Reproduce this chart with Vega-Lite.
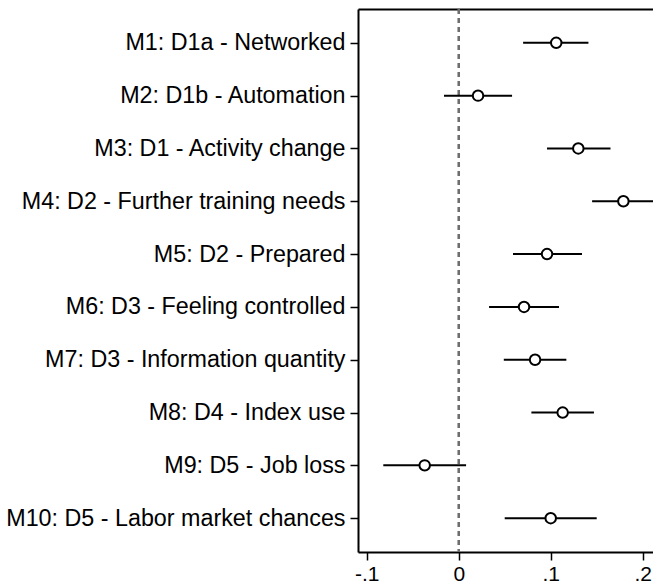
{
  "$schema": "https://vega.github.io/schema/vega-lite/v6.json",
  "autosize": "none",
  "padding": {"left": 358, "top": 9, "right": 0, "bottom": 34},
  "width": 295,
  "height": 543,
  "background": "white",
  "config": {
    "view": {"stroke": null},
    "font": "Liberation Sans",
    "axis": {"labelFont": "Liberation Sans", "labelFontSize": 23.3, "labelColor": "black", "domainColor": "black", "domainWidth": 2, "tickColor": "black", "tickWidth": 1.5, "tickSize": 8, "grid": false, "title": null}
  },
  "data": {"values": [
    {"label": "M1: D1a - Networked", "est": 0.106, "lo": 0.070, "hi": 0.141},
    {"label": "M2: D1b - Automation", "est": 0.021, "lo": -0.016, "hi": 0.058},
    {"label": "M3: D1 - Activity change", "est": 0.130, "lo": 0.096, "hi": 0.165},
    {"label": "M4: D2 - Further training needs", "est": 0.179, "lo": 0.145, "hi": 0.213},
    {"label": "M5: D2 - Prepared", "est": 0.096, "lo": 0.059, "hi": 0.134},
    {"label": "M6: D3 - Feeling controlled", "est": 0.071, "lo": 0.033, "hi": 0.109},
    {"label": "M7: D3 - Information quantity", "est": 0.083, "lo": 0.049, "hi": 0.117},
    {"label": "M8: D4 - Index use", "est": 0.113, "lo": 0.079, "hi": 0.147},
    {"label": "M9: D5 - Job loss", "est": -0.037, "lo": -0.082, "hi": 0.008},
    {"label": "M10: D5 - Labor market chances", "est": 0.100, "lo": 0.050, "hi": 0.150}
  ]},
  "resolve": {"axis": {"x": "independent"}},
  "layer": [
    {
      "mark": {"type": "rule", "strokeDash": [5, 4], "color": "#6e6e6e", "strokeWidth": 1.6},
      "encoding": {
        "x": {"datum": 0, "type": "quantitative", "scale": {"domain": [-0.1095, 0.2112], "nice": false, "zero": false}, "axis": {"orient": "top", "labels": false, "ticks": false, "domain": true}}
      }
    },
    {
      "mark": {"type": "rule", "color": "black", "strokeWidth": 2, "clip": true},
      "encoding": {
        "y": {"field": "label", "type": "nominal", "sort": null, "scale": {"type": "point", "padding": 0.64}, "axis": {"labelPadding": 5, "labelLimit": 400}},
        "x": {"field": "lo", "type": "quantitative", "axis": null},
        "x2": {"field": "hi"}
      }
    },
    {
      "mark": {"type": "point", "shape": "circle", "filled": false, "fill": "white", "stroke": "black", "strokeWidth": 2, "size": 110, "opacity": 1},
      "encoding": {
        "y": {"field": "label", "type": "nominal", "sort": null},
        "x": {"field": "est", "type": "quantitative", "axis": {"orient": "bottom", "values": [-0.1, 0, 0.1, 0.2], "tickSize": 8, "labelPadding": 3, "labelFontSize": 21, "labelExpr": "datum.value < -0.05 ? '-.1' : datum.value < 0.05 ? '0' : datum.value < 0.15 ? '.1' : '.2'"}}
      }
    }
  ]
}
